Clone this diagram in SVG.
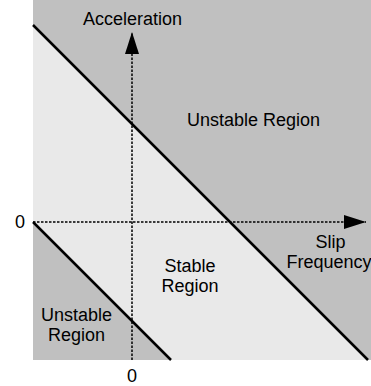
<svg xmlns="http://www.w3.org/2000/svg" width="371" height="386" viewBox="0 0 371 386">
  <style>
    text { font-family: "Liberation Sans", Arial, sans-serif; font-size: 18px; fill: #000; }
    .mid { text-anchor: middle; }
    .axis { stroke: #000; stroke-width: 1.5; stroke-dasharray: 2.5 1.5; fill: none; }
    .bound { stroke: #000; stroke-width: 2.5; fill: none; }
  </style>
  <defs>
    <marker id="arrow" viewBox="0 0 22 14" refX="22" refY="7" markerWidth="22" markerHeight="14" markerUnits="userSpaceOnUse" orient="auto">
      <path d="M0,0 L22,7 L0,14 Z" fill="#000"/>
    </marker>
  </defs>

  <!-- regions -->
  <g id="unstable-fill">
    <rect x="33" y="0" width="338" height="360" fill="#c0c0c0"/>
  </g>
  <g id="stable-fill">
    <polygon points="33,25 368,360 171,360 33,222" fill="#e9e9e9"/>
  </g>

  <!-- axes and stability boundaries -->
  <g id="connectors">
    <line class="axis" x1="132" y1="360" x2="132" y2="32" marker-end="url(#arrow)"/>
    <line class="axis" x1="33" y1="222" x2="366" y2="222" marker-end="url(#arrow)"/>
    <line class="bound" x1="33" y1="25" x2="368" y2="360"/>
    <line class="bound" x1="33" y1="222" x2="171" y2="360"/>
  </g>

  <!-- labels -->
  <g id="label-acceleration"><text class="mid" x="132.5" y="25">Acceleration</text></g>
  <g id="label-unstable-upper"><text class="mid" x="253.5" y="126">Unstable Region</text></g>
  <g id="label-slip-frequency">
    <text class="mid" x="330.5" y="248">Slip</text>
    <text class="mid" x="329" y="268">Frequency</text>
  </g>
  <g id="label-stable">
    <text class="mid" x="190" y="272">Stable</text>
    <text class="mid" x="190" y="292">Region</text>
  </g>
  <g id="label-unstable-lower">
    <text class="mid" x="76.5" y="321">Unstable</text>
    <text class="mid" x="76.5" y="341">Region</text>
  </g>
  <g id="label-zero-y"><text class="mid" x="20" y="228">0</text></g>
  <g id="label-zero-x"><text class="mid" x="132" y="382">0</text></g>
</svg>
